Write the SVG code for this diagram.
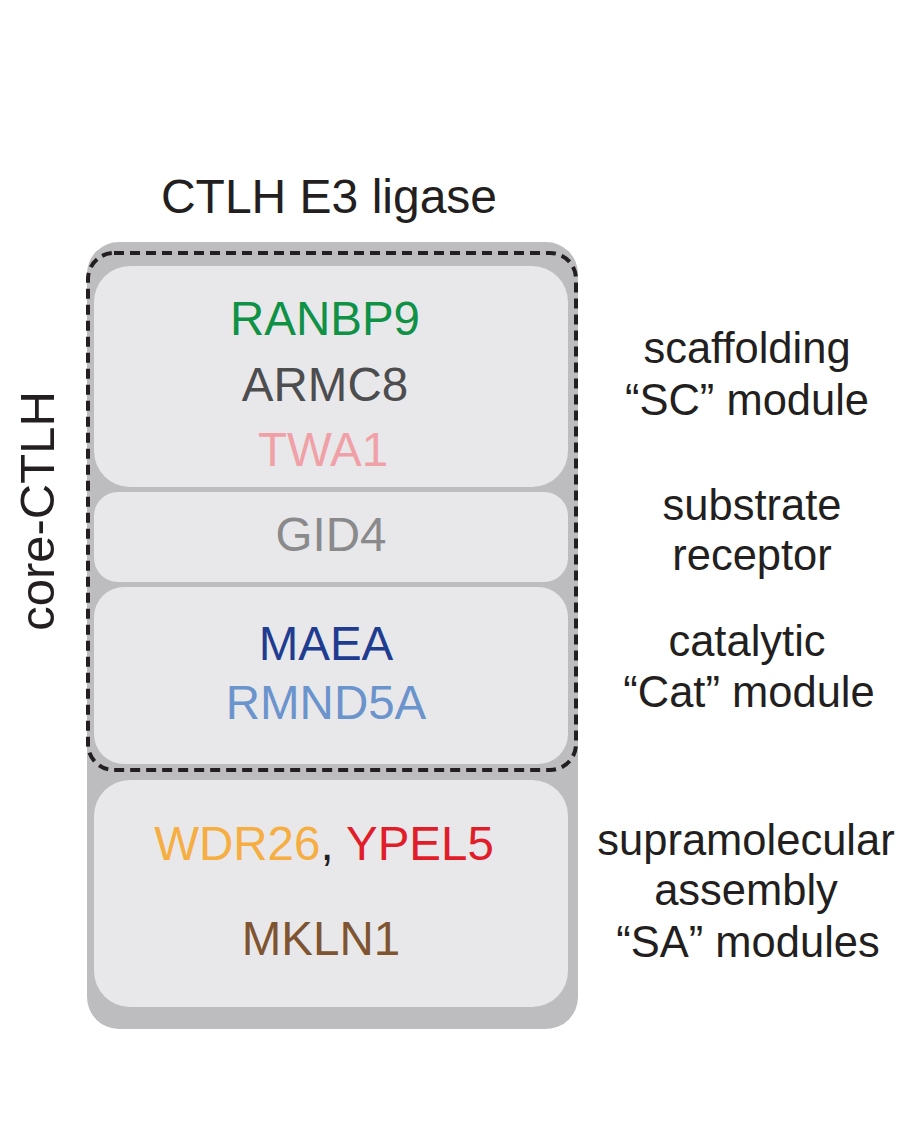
<svg xmlns="http://www.w3.org/2000/svg" width="913" height="1123" viewBox="0 0 913 1123">
<style>
text{font-family:"Liberation Sans",Arial,Helvetica,sans-serif;text-anchor:middle}
.gene{font-size:47.5px}
.lbl{font-size:43.5px;fill:#231f20}
.inner{fill:#e8e8ea}
</style>
<rect width="913" height="1123" fill="#ffffff"/>
<g id="title"><text x="329" y="213" font-size="48" fill="#231f20">CTLH E3 ligase</text></g>
<g id="outer"><rect x="87" y="242" width="491" height="787" rx="32" fill="#bdbdc0"/></g>
<g id="sc-module">
<rect class="inner" x="94" y="266" width="474" height="221" rx="36"/>
<text class="gene" x="325" y="335" fill="#0f9146">RANBP9</text>
<text class="gene" x="325" y="401" fill="#4d4d4f">ARMC8</text>
<text class="gene" x="323" y="466" fill="#f0a1a7">TWA1</text>
</g>
<g id="substrate-receptor">
<rect class="inner" x="94" y="492" width="474" height="90" rx="24"/>
<text class="gene" x="331" y="551" fill="#8a8a8c">GID4</text>
</g>
<g id="cat-module">
<rect class="inner" x="94" y="587" width="474" height="177" rx="30"/>
<text class="gene" x="326" y="660" fill="#1f3c90">MAEA</text>
<text class="gene" x="326" y="719" fill="#6b93cc">RMND5A</text>
</g>
<g id="core-ctlh">
<rect x="88" y="253" width="488" height="517" rx="26" fill="none" stroke="#231f20" stroke-width="4" stroke-dasharray="10 6"/>
<text x="0" y="0" font-size="49" fill="#231f20" transform="translate(54 511) rotate(-90)">core-CTLH</text>
</g>
<g id="sa-modules">
<rect class="inner" x="94" y="780" width="474" height="227" rx="36"/>
<text class="gene" x="324" y="860"><tspan fill="#f6ae42">WDR26</tspan><tspan fill="#231f20">, </tspan><tspan fill="#e11d2a">YPEL5</tspan></text>
<text class="gene" x="321" y="955" fill="#7e5431">MKLN1</text>
</g>
<g id="labels">
<text class="lbl" x="747" y="363">scaffolding</text>
<text class="lbl" x="747" y="415">“SC” module</text>
<text class="lbl" x="752" y="520">substrate</text>
<text class="lbl" x="752" y="570">receptor</text>
<text class="lbl" x="747" y="656">catalytic</text>
<text class="lbl" x="749" y="707">“Cat” module</text>
<text class="lbl" x="746" y="855">supramolecular</text>
<text class="lbl" x="746" y="905">assembly</text>
<text class="lbl" x="748" y="957">“SA” modules</text>
</g>
<g id="connectors"></g>
</svg>
